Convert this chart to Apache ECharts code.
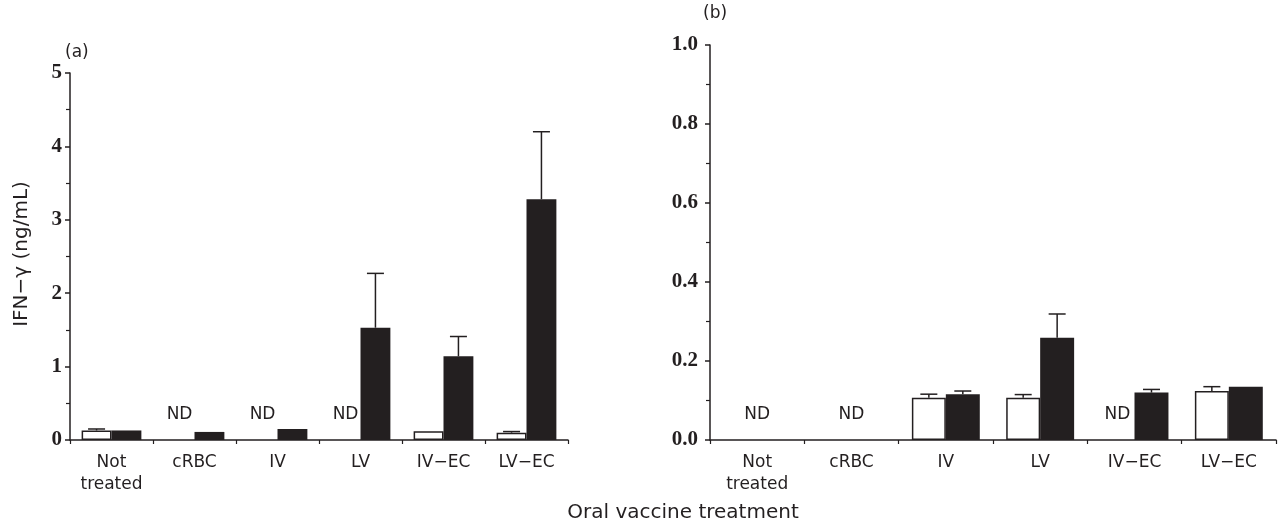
<!DOCTYPE html>
<html><head><meta charset="utf-8">
<script src="https://cdn.jsdelivr.net/npm/echarts@6/dist/echarts.min.js"></script>
<style>html,body{margin:0;padding:0;background:#fff}#c{width:1282px;height:527px}</style>
</head><body><div id="c"></div>
<script>
var categories = ['Not\ntreated', 'cRBC', 'IV', 'LV', 'IV\u2212EC', 'LV\u2212EC'];
// Panel (a)
var aWhite = [0.13, 0, 0, 0, 0.12, 0.10];
var aWhiteErr = [0.02, 0, 0, 0, 0, 0.015];
var aBlack = [0.13, 0.11, 0.15, 1.53, 1.14, 3.28];
var aBlackErr = [0, 0, 0, 0.74, 0.27, 0.92];
var aND = [[1, -1], [2, -1], [3, -1]]; // [category, position: -1 white bar, 0 centre]
var aTicks = [0, 1, 2, 3, 4, 5];
// Panel (b)
var bWhite = [0, 0, 0.107, 0.107, 0, 0.124];
var bWhiteErr = [0, 0, 0.009, 0.008, 0, 0.011];
var bBlack = [0, 0, 0.116, 0.259, 0.12, 0.135];
var bBlackErr = [0, 0, 0.008, 0.06, 0.008, 0];
var bND = [[0, 0], [1, 0], [4, -1]];
var bTicks = [0, 0.2, 0.4, 0.6, 0.8, 1.0];

var INK = '#231f20';
var BW = 0.36; // bar width fraction of band
var SANS = '"DejaVu Sans", "Liberation Sans", Arial, sans-serif';

function errSeries(gi, means, errs, side) {
  var data = [];
  for (var i = 0; i < means.length; i++) if (errs[i] > 0) data.push([i, means[i], means[i] + errs[i]]);
  return {
    type: 'custom', xAxisIndex: gi, yAxisIndex: gi, z: 1, silent: true,
    data: data,
    renderItem: function (params, api) {
      var band = api.size([1, 0])[0];
      var p0 = api.coord([api.value(0), api.value(1)]);
      var p1 = api.coord([api.value(0), api.value(2)]);
      var x = p0[0] + side * band * BW / 2;
      var cap = 8.5;
      return {
        type: 'group', children: [
          { type: 'line', shape: { x1: x, y1: p0[1], x2: x, y2: p1[1] }, style: { stroke: INK, lineWidth: 1.5 } },
          { type: 'line', shape: { x1: x - cap, y1: p1[1], x2: x + cap, y2: p1[1] }, style: { stroke: INK, lineWidth: 1.5 } }
        ]
      };
    }
  };
}
function ndSeries(gi, items) {
  return {
    type: 'custom', xAxisIndex: gi, yAxisIndex: gi, silent: true, z: 5,
    data: items,
    renderItem: function (params, api) {
      var band = api.size([1, 0])[0];
      var p = api.coord([api.value(0), 0]);
      var x = p[0] + api.value(1) * band * BW / 2;
      return { type: 'text', style: { x: x, y: p[1] - 25, text: 'ND', textAlign: 'center', textVerticalAlign: 'middle',
        font: '17px ' + SANS, fill: INK } };
    }
  };
}
function barSeries(gi, vals, white) {
  return {
    type: 'bar', xAxisIndex: gi, yAxisIndex: gi, barWidth: (BW * 100) + '%', barGap: '0%', z: 2,
    data: vals.map(function (v) { return { value: v, itemStyle: v === 0 ? { borderWidth: 0 } : {} }; }),
    itemStyle: white ? { color: '#fff', borderColor: INK, borderWidth: 1.5 } : { color: INK },
    silent: true
  };
}
function yAxis(gi, ticks, dec, margin) {
  return {
    type: 'value', gridIndex: gi, min: ticks[0], max: ticks[ticks.length - 1], interval: ticks[1] - ticks[0],
    axisLine: { show: true, lineStyle: { color: INK, width: 1.5 } },
    axisTick: { show: true, length: 5, lineStyle: { color: INK, width: 1.5 } },
    minorTick: { show: true, splitNumber: 2, length: 4, lineStyle: { color: INK, width: 1.2 } },
    splitLine: { show: false },
    axisLabel: { color: INK, fontFamily: '"Liberation Serif", "Times New Roman", serif', fontWeight: 'bold', fontSize: 21, margin: margin,
      formatter: function (v) { return v.toFixed(dec); } }
  };
}
function xAxis(gi) {
  return {
    type: 'category', gridIndex: gi, data: categories,
    axisLine: { lineStyle: { color: INK, width: 1.5 } },
    axisTick: { show: true, length: 4, lineStyle: { color: INK, width: 1.2 } },
    axisLabel: { color: INK, fontFamily: SANS, fontSize: 17, margin: 12, lineHeight: 22, interval: 0 }
  };
}

var chart = echarts.init(document.getElementById('c'), null, { renderer: 'canvas' });
chart.setOption({
  backgroundColor: '#fff',
  animation: false,
  grid: [
    { left: 70, right: 714, top: 73, bottom: 87 },
    { left: 710, right: 6, top: 45, bottom: 87 }
  ],
  xAxis: [xAxis(0), xAxis(1)],
  yAxis: [yAxis(0, aTicks, 0, 8), yAxis(1, bTicks, 1, 12)],
  graphic: [
    { type: 'text', left: 65, top: 44, style: { text: '(a)', font: '17px ' + SANS, fill: INK } },
    { type: 'text', left: 703, top: 5, style: { text: '(b)', font: '17px ' + SANS, fill: INK } },
    { type: 'text', x: 683, y: 513, style: { text: 'Oral vaccine treatment', textAlign: 'center', textVerticalAlign: 'middle', font: '20px ' + SANS, fill: INK } },
    { type: 'text', x: 22, y: 254, rotation: Math.PI / 2, style: { text: 'IFN\u2212\u03b3 (ng/mL)', textAlign: 'center', textVerticalAlign: 'middle', font: '20px ' + SANS, fill: INK } }
  ],
  series: [
    barSeries(0, aWhite, true), barSeries(0, aBlack, false),
    errSeries(0, aWhite, aWhiteErr, -1), errSeries(0, aBlack, aBlackErr, 1),
    ndSeries(0, aND),
    barSeries(1, bWhite, true), barSeries(1, bBlack, false),
    errSeries(1, bWhite, bWhiteErr, -1), errSeries(1, bBlack, bBlackErr, 1),
    ndSeries(1, bND)
  ]
});
</script></body></html>
